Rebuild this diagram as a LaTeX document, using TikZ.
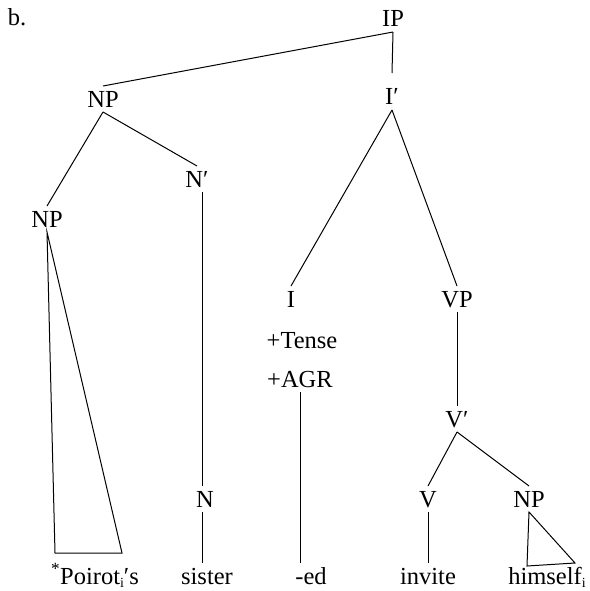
\documentclass[tikz,border=0pt]{standalone}
\usepackage{fontspec}
\setmainfont{Liberation Serif}
\usetikzlibrary{calc}
\newcommand{\idx}[1]{\raisebox{-0.28ex}{\fontsize{14}{14}\selectfont #1}}
\begin{document}
\begin{tikzpicture}[x=1pt,y=-1pt,
  lab/.style={font=\fontsize{24.5}{28}\selectfont, inner sep=0pt, outer xsep=0pt,
              outer ysep=5pt, text height=16pt, text depth=0pt, anchor=base},
  branch/.style={line width=1pt}]
\useasboundingbox (0,0) rectangle (589,591);

% labels of the tree
\node[lab, anchor=base west] (lbl) at (8,26) {b.};
\node[lab] (ip)     at (393,27)  {IP};
\node[lab] (np1)    at (103,107) {NP};
\node[lab] (ibar)   at (392,105) {I′};
\node[lab] (nbar)   at (197,187) {N′};
\node[lab] (np2)    at (47,227)  {NP};
\node[lab] (infl)   at (291,307) {I};
\node[lab] (vp)     at (457,307) {VP};
\node[lab] (tense)  at (302,348) {+Tense};
\node[lab] (agr)    at (300,387) {+AGR};
\node[lab] (vbar)   at (457,427) {V′};
\node[lab] (n)      at (205,507) {N};
\node[lab] (v)      at (428,507) {V};
\node[lab] (np3)    at (529,507) {NP};
\node[lab] (poss)   at (95,584)  {\textsuperscript{*}Poirot\idx{i}′s};
\node[lab] (sister) at (207,584) {sister};
\node[lab] (ed)     at (311,584) {-ed};
\node[lab] (invite) at (428,584) {invite};
\node[lab] (himself) at (547,584) {himself\idx{i}};

% corners of the two triangles
\coordinate (pa) at (55,553);
\coordinate (pb) at (122,553);
\coordinate (ha) at (527,566);
\coordinate (hb) at (575,563);

% branches
\draw[branch] (ip.south) -- (np1.north);
\draw[branch] (ip.south) -- ([yshift=11pt]ibar.north);
\draw[branch] (np1.south) -- (np2.north);
\draw[branch] (np1.south) -- (nbar.north);
\draw[branch] (np2.south) -- (pa) -- (pb) -- cycle;
\draw[branch] ([xshift=-3pt]n.north) -- ([xshift=-3pt]n.north |- nbar.south);
\draw[branch] ([xshift=-3pt]n.south) -- ([xshift=-3pt]n.south |- sister.north);
\draw[branch] (ibar.south) -- (infl.north);
\draw[branch] (ibar.south) -- (vp.north);
\draw[branch] (vp.south) -- (vbar.north);
\draw[branch] (agr.south) -- (agr.south |- ed.north);
\draw[branch] (vbar.south) -- (v.north);
\draw[branch] (vbar.south) -- (np3.north);
\draw[branch] (v.south) -- (invite.north);
\draw[branch] (np3.south) -- (ha) -- (hb) -- cycle;
\end{tikzpicture}
\end{document}
